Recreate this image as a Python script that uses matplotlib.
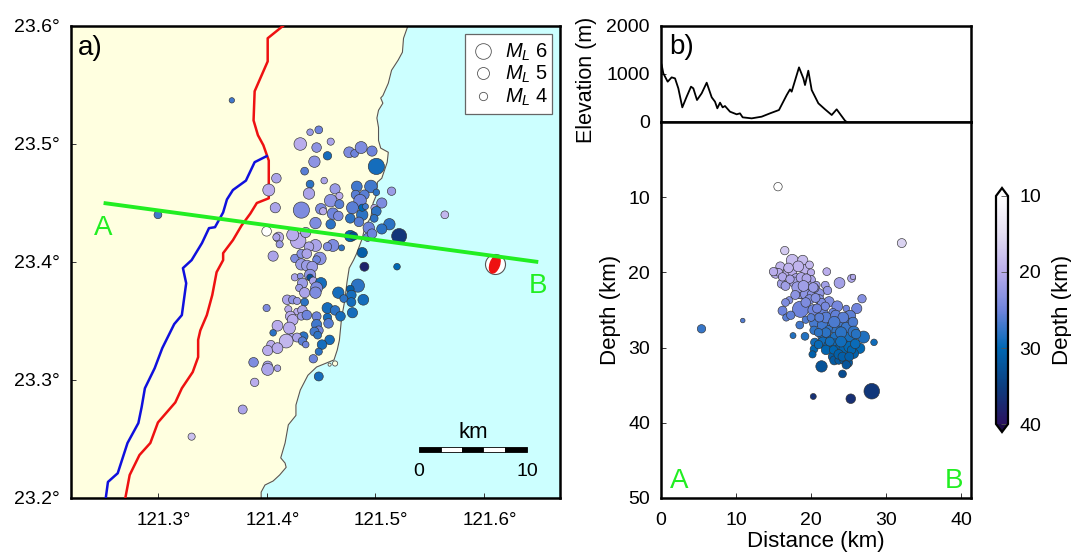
import matplotlib
matplotlib.use("Agg")
import numpy as np
import matplotlib.pyplot as plt
from matplotlib.cm import ScalarMappable
from matplotlib.colors import LinearSegmentedColormap, Normalize
from matplotlib.patches import Ellipse, Rectangle
from matplotlib.transforms import ScaledTranslation

plt.rcParams["font.family"] = ["Liberation Sans", "DejaVu Sans"]
plt.rcParams["mathtext.fontset"] = "custom"
plt.rcParams["mathtext.rm"] = "Liberation Sans"
plt.rcParams["mathtext.it"] = "Liberation Sans:italic"

# Map catalogue
lon = [
    121.440, 121.448, 121.431, 121.459, 121.446, 121.456, 121.476, 121.481, 121.487, 121.497,
    121.501, 121.444, 121.435, 121.453, 121.409, 121.440, 121.402, 121.439, 121.463, 121.483,
    121.496, 121.501, 121.515, 121.467, 121.482, 121.490, 121.459, 121.467, 121.486, 121.506,
    121.432, 121.408, 121.450, 121.452, 121.461, 121.466, 121.479, 121.488, 121.488, 121.499,
    121.501, 121.491, 121.477, 121.485, 121.499, 121.445, 121.459, 121.513, 121.506, 121.494,
    121.522, 121.400, 121.411, 121.409, 121.412, 121.429, 121.424, 121.436, 121.445, 121.439,
    121.461, 121.456, 121.469, 121.477, 121.480, 121.493, 121.497, 121.488, 121.490, 121.520,
    121.406, 121.426, 121.432, 121.437, 121.449, 121.446, 121.432, 121.437, 121.442, 121.426,
    121.431, 121.440, 121.440, 121.433, 121.430, 121.443, 121.450, 121.446, 121.445, 121.435,
    121.484, 121.477, 121.466, 121.478, 121.471, 121.478, 121.489, 121.419, 121.424, 121.428,
    121.435, 121.400, 121.456, 121.463, 121.420, 121.428, 121.433, 121.422, 121.424, 121.432,
    121.437, 121.446, 121.468, 121.479, 121.456, 121.457, 121.446, 121.410, 121.421, 121.448,
    121.406, 121.444, 121.434, 121.447, 121.423, 121.428, 121.418, 121.433, 121.436, 121.458,
    121.451, 121.404, 121.401, 121.410, 121.448, 121.443, 121.388, 121.401, 121.401, 121.410,
    121.448, 121.389, 121.378, 121.368, 121.300, 121.564, 121.331,
]
lat = [
    23.510, 23.512, 23.500, 23.502, 23.497, 23.490, 23.493, 23.492, 23.497, 23.494,
    23.481, 23.485, 23.477, 23.469, 23.471, 23.466, 23.461, 23.458, 23.462, 23.464,
    23.464, 23.459, 23.460, 23.456, 23.457, 23.457, 23.452, 23.449, 23.452, 23.450,
    23.444, 23.446, 23.445, 23.443, 23.441, 23.439, 23.446, 23.440, 23.446, 23.446,
    23.443, 23.447, 23.437, 23.434, 23.437, 23.433, 23.432, 23.432, 23.428, 23.429,
    23.422, 23.426, 23.421, 23.421, 23.415, 23.418, 23.423, 23.425, 23.414, 23.413,
    23.414, 23.413, 23.412, 23.422, 23.422, 23.421, 23.424, 23.408, 23.396, 23.396,
    23.405, 23.403, 23.407, 23.407, 23.403, 23.402, 23.398, 23.397, 23.396, 23.387,
    23.388, 23.389, 23.387, 23.382, 23.378, 23.384, 23.382, 23.378, 23.374, 23.374,
    23.380, 23.377, 23.374, 23.372, 23.369, 23.366, 23.368, 23.368, 23.368, 23.367,
    23.366, 23.361, 23.361, 23.359, 23.360, 23.358, 23.359, 23.354, 23.351, 23.354,
    23.355, 23.354, 23.354, 23.357, 23.353, 23.348, 23.347, 23.346, 23.344, 23.342,
    23.340, 23.341, 23.337, 23.338, 23.336, 23.336, 23.333, 23.333, 23.330, 23.334,
    23.330, 23.330, 23.325, 23.327, 23.324, 23.318, 23.315, 23.312, 23.309, 23.310,
    23.303, 23.298, 23.275, 23.537, 23.440, 23.440, 23.252,
]
depth = [
    22, 25, 20, 21, 23, 29, 24, 25, 24, 25,
    29, 23, 26, 21, 21, 28, 20, 21, 22, 27,
    27, 28, 22, 20, 26, 26, 23, 26, 25, 24,
    24, 21, 24, 20, 25, 24, 26, 28, 30, 20,
    28, 27, 28, 26, 28, 24, 28, 28, 28, 25,
    36, 10, 20, 21, 22, 20, 20, 21, 21, 21,
    24, 24, 28, 30, 33, 25, 25, 31, 38, 30,
    21, 24, 23, 21, 23, 25, 22, 22, 22, 21,
    23, 23, 33, 22, 22, 21, 29, 24, 24, 21,
    28, 31, 29, 29, 28, 29, 29, 21, 23, 22,
    28, 24, 29, 28, 20, 20, 21, 20, 20, 22,
    25, 25, 29, 29, 29, 26, 27, 20, 20, 25,
    28, 27, 28, 28, 21, 21, 19, 26, 25, 29,
    29, 20, 20, 20, 28, 25, 24, 21, 21, 21,
    29, 20, 21, 27, 27, 19, 18,
]
mag = [
    3.4, 3.7, 4.9, 3.55, 4.15, 3.85, 4.45, 3.7, 4.75, 4.3,
    5.8, 4.6, 3.7, 3.4, 4.15, 3.7, 4.75, 4.6, 4.3, 4.45,
    4.9, 3.4, 3.85, 3.55, 4.0, 4.15, 4.9, 4.0, 4.9, 4.3,
    5.8, 4.3, 4.45, 3.55, 4.6, 4.15, 4.75, 4.6, 3.55, 3.4,
    4.15, 3.25, 4.15, 4.15, 3.7, 4.6, 4.15, 4.6, 4.3, 4.6,
    5.5, 4.15, 4.3, 3.55, 3.55, 5.65, 4.75, 4.3, 4.75, 4.15,
    4.75, 3.85, 3.25, 4.6, 3.85, 3.85, 4.15, 4.3, 4.0, 3.4,
    4.3, 3.85, 4.0, 4.15, 4.9, 3.7, 4.6, 4.45, 4.45, 3.55,
    3.25, 4.6, 3.4, 4.3, 3.55, 3.7, 4.6, 4.75, 4.6, 4.3,
    5.05, 3.7, 4.6, 4.15, 3.7, 4.0, 4.45, 4.15, 3.85, 3.55,
    3.7, 3.55, 4.45, 4.15, 3.55, 3.4, 4.15, 4.3, 4.45, 3.7,
    4.15, 4.0, 4.15, 4.3, 3.85, 4.15, 4.3, 4.45, 4.75, 4.0,
    3.4, 4.0, 4.0, 3.7, 3.7, 4.0, 5.2, 3.85, 3.4, 4.15,
    4.15, 3.85, 4.3, 4.45, 3.55, 3.85, 4.15, 4.15, 4.75, 3.4,
    4.0, 3.85, 4.0, 3.1, 3.7, 3.7, 3.55,
]

main_lon = 121.610
main_lat = 23.398

# Cross section catalogue
sec_dist = [
    16.5, 32.1, 17.5, 18.9, 15.9, 15.3, 15.7, 16.8, 17.5, 18.0,
    19.2, 20.0, 22.1, 16.1, 16.6, 20.0, 20.7, 19.6, 23.8, 25.4,
    25.6, 21.9, 22.2, 18.8, 18.5, 19.3, 20.1, 21.1, 20.5, 21.1,
    22.4, 21.4, 23.5, 17.1, 16.6, 26.8, 24.7, 26.1, 18.6, 20.3,
    21.6, 22.9, 16.2, 16.7, 25.2, 20.4, 19.3, 18.5, 21.6, 23.9,
    22.7, 25.0, 20.4, 22.4, 23.5, 17.6, 19.2, 21.5, 22.4, 23.2,
    24.4, 25.1, 27.0, 28.4, 20.5, 21.6, 22.3, 23.2, 24.3, 23.6,
    26.5, 20.4, 20.2, 25.7, 24.5, 22.9, 23.1, 23.7, 24.4, 24.9,
    21.4, 24.2, 28.1, 25.3, 20.3, 15.6, 5.4, 10.9,
    18.3, 17.0, 19.8, 16.2, 17.8, 18.7, 19.4, 15.0, 17.2, 18.2,
    19.0, 20.3, 17.9, 19.8, 20.6, 19.3, 21.9, 17.3, 20.8, 22.0,
    23.3, 24.3, 24.7, 25.6, 23.1, 21.1, 20.0, 22.0, 21.0, 24.0,
    25.7, 26.0, 21.0, 22.0, 23.0, 24.4, 25.1, 25.4, 22.5, 24.0,
    23.7, 24.2, 25.1, 25.9, 24.7,
]
sec_depth = [
    17.1, 16.1, 18.4, 18.4, 19.2, 20.1, 20.0, 20.0, 19.9, 20.8,
    19.6, 20.0, 19.9, 21.5, 21.8, 21.0, 21.7, 21.5, 21.4, 20.8,
    20.6, 21.7, 22.4, 22.5, 22.6, 22.9, 22.9, 22.8, 22.1, 23.6,
    23.9, 24.0, 24.5, 23.7, 24.0, 23.5, 24.8, 24.8, 24.9, 25.0,
    25.4, 25.3, 25.1, 26.0, 25.8, 26.8, 26.3, 27.0, 27.0, 27.0,
    26.8, 26.8, 27.7, 27.6, 27.8, 28.4, 28.5, 28.5, 28.8, 28.6,
    28.5, 28.9, 28.6, 29.3, 29.3, 29.3, 29.7, 29.4, 29.5, 30.2,
    30.1, 30.2, 30.9, 30.8, 30.8, 31.2, 31.7, 31.7, 31.7, 32.0,
    32.5, 33.5, 35.8, 36.8, 36.5, 8.6, 27.5, 26.4,
    19.2, 19.4, 19.0, 20.6, 21.3, 20.7, 20.8, 19.9, 20.9, 22.0,
    21.8, 22.0, 23.0, 23.6, 23.4, 24.0, 24.5, 25.7, 24.8, 26.0,
    25.7, 26.0, 27.3, 26.6, 26.6, 26.0, 26.0, 28.0, 28.0, 28.0,
    27.9, 28.2, 29.6, 30.3, 30.3, 30.2, 29.9, 30.3, 29.2, 29.2,
    30.9, 31.2, 31.2, 29.5, 32.3,
]
sec_mag = [
    3.85, 4.0, 4.75, 4.3, 4.0, 4.3, 3.7, 3.7, 4.0, 4.15,
    4.15, 3.55, 3.7, 4.0, 4.0, 4.0, 3.7, 3.4, 4.45, 3.7,
    3.1, 3.7, 3.85, 5.65, 5.05, 4.45, 4.0, 4.15, 3.85, 4.15,
    4.3, 3.85, 4.45, 3.55, 3.7, 3.85, 3.4, 4.3, 5.8, 4.45,
    4.3, 3.7, 4.0, 3.55, 4.6, 4.0, 3.55, 3.7, 4.6, 5.65,
    3.7, 4.45, 3.85, 3.85, 4.45, 3.25, 3.7, 4.0, 3.85, 4.15,
    4.15, 5.5, 4.75, 3.4, 3.85, 4.45, 4.0, 3.85, 4.15, 4.0,
    4.3, 3.7, 3.55, 4.15, 4.0, 4.0, 4.0, 3.7, 3.85, 4.15,
    4.6, 3.7, 5.65, 4.15, 3.25, 3.85, 3.85, 2.9,
    4.45, 4.15, 3.7, 3.85, 4.3, 4.3, 4.0, 3.85, 3.85, 4.6,
    4.45, 4.15, 4.0, 4.15, 4.0, 4.15, 3.85, 3.85, 4.0, 4.45,
    4.3, 4.45, 4.3, 4.15, 4.6, 4.0, 3.7, 4.15, 3.85, 4.6,
    4.6, 4.15, 3.85, 4.15, 3.85, 4.3, 4.45, 3.85, 4.0, 4.45,
    4.15, 4.0, 4.0, 4.15, 3.85,
]

# Elevation profile along A-B
prof_dist = [
    0.0, 0.09, 0.31, 0.89, 1.42, 1.87, 2.31, 2.84, 3.42, 4.0, 4.31, 4.8, 5.42, 6.09,
    6.76, 7.2, 7.51, 7.87, 8.22, 8.53, 9.2, 10.09, 10.53, 10.89, 12.09, 13.42, 14.53,
    15.73, 16.76, 17.2, 17.42, 18.4, 18.98, 19.2, 19.64, 20.09, 20.98, 21.87, 22.76,
    23.42, 24.53, 24.76,
]
prof_elev = [
    1230, 1187, 1013, 840, 930, 909, 701, 305, 527, 736, 701, 458, 597, 819,
    514, 423, 285, 403, 305, 333, 215, 160, 180, 97, 76, 111, 180,
    250, 562, 680, 632, 1138, 909, 770, 1069, 666, 389, 264, 146,
    264, 28, 0,
]

# Coastline, north to south
coast_lon = [
    121.530, 121.526, 121.525, 121.521, 121.515, 121.512, 121.507, 121.505, 121.507, 121.503,
    121.5015, 121.503, 121.503, 121.505, 121.512, 121.511, 121.506, 121.502, 121.501, 121.498,
    121.496, 121.4905, 121.488, 121.483, 121.480, 121.476, 121.474, 121.472, 121.469, 121.467,
    121.465, 121.462, 121.454, 121.446, 121.438, 121.431, 121.427, 121.427, 121.420, 121.417,
    121.413, 121.417, 121.418, 121.412, 121.406, 121.3985, 121.395, 121.395,
]
coast_lat = [
    23.600, 23.5896, 23.5778, 23.571, 23.5625, 23.5515, 23.541, 23.539, 23.5346, 23.5286,
    23.522, 23.514, 23.503, 23.4965, 23.493, 23.4846, 23.471, 23.4677, 23.4566, 23.450,
    23.438, 23.4295, 23.420, 23.4075, 23.4016, 23.3948, 23.383, 23.3677, 23.3525, 23.3338,
    23.3254, 23.317, 23.314, 23.311, 23.304, 23.2915, 23.2788, 23.270, 23.262, 23.2466,
    23.234, 23.2296, 23.226, 23.2195, 23.2144, 23.211, 23.205, 23.200,
]

# Thrust traces
red_lon = [
    121.415, 121.401, 121.401, 121.389, 121.388, 121.392, 121.397, 121.402, 121.402, 121.391,
    121.385, 121.377, 121.369, 121.360, 121.360, 121.354, 121.350, 121.345, 121.339, 121.337,
    121.337, 121.332, 121.322, 121.316, 121.300, 121.293, 121.283, 121.274, 121.270,
]
red_lat = [
    23.600, 23.5896, 23.570, 23.5447, 23.520, 23.5075, 23.499, 23.486, 23.454, 23.450,
    23.441, 23.431, 23.4185, 23.4075, 23.4016, 23.3914, 23.372, 23.355, 23.342, 23.334,
    23.3194, 23.3067, 23.293, 23.281, 23.264, 23.2466, 23.2364, 23.2195, 23.200,
]
blue_lon = [
    121.400, 121.389, 121.382, 121.381, 121.369, 121.3635, 121.360, 121.3525, 121.347, 121.3405,
    121.331, 121.323, 121.326, 121.322, 121.315, 121.304, 121.297, 121.288, 121.285, 121.282,
    121.272, 121.263, 121.254, 121.252,
]
blue_lat = [
    23.4897, 23.4846, 23.471, 23.469, 23.461, 23.453, 23.442, 23.4295, 23.4287, 23.416,
    23.4016, 23.3948, 23.382, 23.355, 23.3474, 23.327, 23.310, 23.293, 23.277, 23.2635,
    23.2466, 23.221, 23.2136, 23.200,
]

# Islets off the coast
islet_lon = [121.463, 121.458]
islet_lat = [23.314, 23.313]

# Profile ends
profile_lon = [121.25, 121.65]
profile_lat = [23.45, 23.40]

legend_mags = [6, 5, 4]

depth_colors = ["#ffffff", "#e4def2", "#b9acec", "#6f84dc", "#0068b4", "#0c3f80", "#2a1260"]

LAND = "#ffffe0"
SEA = "#ccffff"
GREEN = "#22ee22"
WIDTH, HEIGHT = 1071, 557


def axes_rect(left, top, right, bottom):
    return [left / WIDTH, 1 - bottom / HEIGHT, (right - left) / WIDTH, (bottom - top) / HEIGHT]


def marker_area(values):
    # radius in pixels grows with magnitude, scatter wants points squared
    radius = 4.5 + (np.asarray(values, dtype=float) - 4) * 2.0
    return (2 * radius * 72 / 100) ** 2


def style_axes(ax):
    for spine in ax.spines.values():
        spine.set_linewidth(1.8)
    ax.tick_params(direction="in", length=3.5, width=0.7, color="#333333", labelsize=14, pad=8)


fig = plt.figure(figsize=(WIDTH / 100, HEIGHT / 100), dpi=100)
cmap = LinearSegmentedColormap.from_list("depth", depth_colors, N=256).with_extremes(
    under="#ffffff", over="#1c0c48"
)
norm = Normalize(10, 40)

# a) map
ax = fig.add_axes(axes_rect(71, 26, 560, 498))
ax.set_xlim(121.22, 121.67)
ax.set_ylim(23.2, 23.6)
ax.set_facecolor(SEA)
land_lon = coast_lon + [121.22, 121.22]
land_lat = coast_lat + [23.2, 23.6]
ax.fill(land_lon, land_lat, color=LAND, zorder=1)
ax.plot(coast_lon, coast_lat, color="#555555", lw=0.8, zorder=2)
ax.scatter(islet_lon, islet_lat, s=[14, 5], c=LAND, edgecolors="#555555", linewidths=0.6, zorder=2)
ax.plot(red_lon, red_lat, color="#ee1111", lw=1.8, zorder=3)
ax.plot(blue_lon, blue_lat, color="#1010dd", lw=1.8, zorder=3)
ax.scatter(
    lon, lat, s=marker_area(mag), c=depth, cmap=cmap, norm=norm,
    edgecolors="#333333", linewidths=0.45, zorder=4,
)
ax.scatter(
    [main_lon], [main_lat], s=(2 * 10 * 0.72) ** 2, c="white",
    edgecolors="#555555", linewidths=0.8, zorder=5,
)
ax.add_patch(Ellipse((main_lon, main_lat), 0.0085, 0.0155, angle=-22, color="#ee1111", zorder=6))
ax.plot(profile_lon, profile_lat, color=GREEN, lw=2.8, zorder=7, solid_capstyle="butt")
ax.text(121.25, 23.429, "A", color=GREEN, fontsize=20, ha="center", va="center", zorder=8)
ax.text(121.65, 23.38, "B", color=GREEN, fontsize=20, ha="center", va="center", zorder=8)
ax.set_xticks([121.3, 121.4, 121.5, 121.6])
ax.set_xticklabels(["121.3°", "121.4°", "121.5°", "121.6°"])
ax.set_yticks([23.2, 23.3, 23.4, 23.5, 23.6])
ax.set_yticklabels(["23.2°", "23.3°", "23.4°", "23.5°", "23.6°"])
style_axes(ax)
ax.tick_params(axis="x", pad=10, labelsize=13.5)
for label in ax.get_xticklabels():
    label.set_transform(label.get_transform() + ScaledTranslation(6 / 100, 0, fig.dpi_scale_trans))

# legend, scale bar and panel letter sit in an overlay counted in pixels
over = fig.add_axes(axes_rect(71, 26, 560, 498), zorder=5)
over.set_xlim(71, 560)
over.set_ylim(498, 26)
over.axis("off")
over.text(78, 48, "a)", fontsize=20, ha="left", va="center")
over.add_patch(Rectangle((465, 34), 87, 80, fc="white", ec="#666666", lw=0.9))
for row_y, value in zip([51, 73, 96], legend_mags):
    over.scatter(
        [483], [row_y], s=marker_area([value]) * 0.85, c="white",
        edgecolors="#555555", linewidths=0.6,
    )
    over.text(505, row_y + 1, f"$M_L$ {value}", fontsize=14.5, ha="left", va="center")

bar_edges = [419, 441, 462, 483, 505, 527]
for i in range(5):
    over.add_patch(Rectangle(
        (bar_edges[i], 447), bar_edges[i + 1] - bar_edges[i], 5,
        fc="black" if i % 2 == 0 else "white", ec="black", lw=0.6,
    ))
over.text(473, 432, "km", fontsize=16, ha="center", va="center")
over.text(419, 471, "0", fontsize=14, ha="center", va="center")
over.text(527, 471, "10", fontsize=14, ha="center", va="center")

# b) elevation above the section
top = fig.add_axes(axes_rect(661, 26, 971, 122))
top.set_xlim(0, 41.33)
top.set_ylim(0, 2000)
top.plot(prof_dist, prof_elev, color="black", lw=1.3)
top.set_xticks([])
top.set_yticks([0, 1000, 2000])
top.set_ylabel("Elevation (m)", fontsize=15.5)
style_axes(top)
top.yaxis.set_label_coords((597 - 661) / 310, 0.44)
top.text(0.028, 0.78, "b)", fontsize=20, ha="left", va="center", transform=top.transAxes)

sec = fig.add_axes(axes_rect(661, 122, 971, 498))
sec.set_xlim(0, 41.33)
sec.set_ylim(50, 0)
sec.scatter(
    sec_dist, sec_depth, s=marker_area(sec_mag), c=sec_depth, cmap=cmap, norm=norm,
    edgecolors="#333333", linewidths=0.45, zorder=3,
)
sec.text(2.4, 47.7, "A", color=GREEN, fontsize=20, ha="center", va="center")
sec.text(39.1, 47.7, "B", color=GREEN, fontsize=20, ha="center", va="center")
sec.set_xticks([0, 10, 20, 30, 40])
sec.set_yticks([10, 20, 30, 40, 50])
sec.set_xlabel("Distance (km)", fontsize=16)
sec.set_ylabel("Depth (km)", fontsize=16)
style_axes(sec)
sec.tick_params(axis="x", pad=10)
sec.yaxis.set_label_coords((621 - 661) / 310, 0.5)
sec.xaxis.set_label_coords(0.5, (498 - 531) / 376)

# colour bar
cax = fig.add_axes(axes_rect(996, 188, 1008, 432))
cbar = fig.colorbar(ScalarMappable(norm=norm, cmap=cmap), cax=cax, extend="both", extendfrac=0.035)
cbar.set_ticks([10, 20, 30, 40])
cax.invert_yaxis()
cbar.outline.set_linewidth(1.6)
cax.tick_params(direction="in", length=5, width=0.6, color="#555555", labelsize=14, pad=8)
cbar.set_label("Depth (km)", fontsize=16, labelpad=8)

fig.savefig("out.png", dpi=100)
